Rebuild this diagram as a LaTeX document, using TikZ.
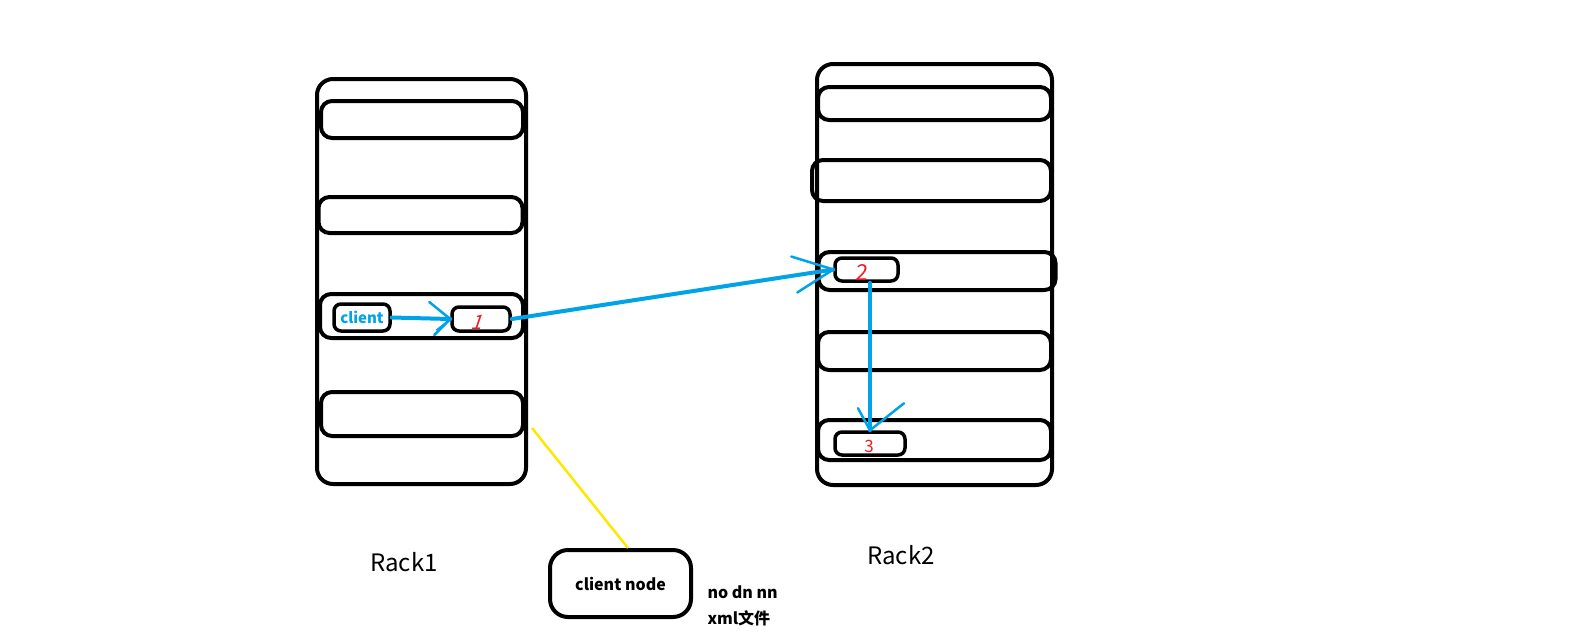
\documentclass[tikz,border=0pt]{standalone}
\usepackage{fontspec}
\setmainfont{Noto Sans CJK SC}
\usetikzlibrary{calc}
\definecolor{inkblue}{HTML}{00A2E8}
\definecolor{inkred}{HTML}{ED1C24}
\definecolor{inkyellow}{HTML}{FFE800}
\tikzset{
  rackbox/.style={draw, line width=4pt, rounded corners=16pt, inner sep=0pt},
  shelf/.style={draw, line width=4pt, rounded corners=11pt, inner sep=0pt},
  datanode/.style={draw, line width=3.5pt, rounded corners=7pt, inner sep=0pt},
  flow/.style={draw=inkblue, line width=4pt, line cap=round},
  headstroke/.style={draw=inkblue, line width=2.5pt, line cap=round},
  thinstroke/.style={draw=inkblue, line width=1.2pt, line cap=round},
  racklabel/.style={font=\fontsize{24}{28}\selectfont},
  smalllabel/.style={font=\fontsize{16}{19}\selectfont\bfseries, anchor=west},
  digit/.style={text=inkred, inner sep=0pt}
}
\begin{document}
\begin{tikzpicture}[x=1pt,y=-1pt]
\useasboundingbox (0,0) rectangle (1588,638);

% Rack 1 and its shelves
\node[rackbox, minimum width=209pt, minimum height=405pt] (rack1) at (421.5,281.5) {};
\node[shelf, minimum width=202pt, minimum height=37pt] (r1s1) at (422,119.5) {};
\node[shelf, minimum width=204pt, minimum height=36pt] (r1s2) at (420.5,215) {};
\node[shelf, minimum width=203pt, minimum height=44pt] (r1s3) at (421.5,316) {};
\node[shelf, minimum width=202pt, minimum height=44pt] (r1s4) at (422,414) {};

% Rack 2 and its shelves
\node[rackbox, minimum width=235pt, minimum height=421pt] (rack2) at (934.5,274.5) {};
\node[shelf, minimum width=233pt, minimum height=33pt] (r2s1) at (934.5,103.5) {};
\node[shelf, minimum width=239pt, minimum height=41pt] (r2s2) at (931.5,180.5) {};
\node[shelf, minimum width=237pt, minimum height=38pt] (r2s3) at (937,271) {};
\node[shelf, minimum width=233pt, minimum height=38pt] (r2s4) at (934.5,351) {};
\node[shelf, minimum width=233pt, minimum height=40pt] (r2s5) at (934.5,440) {};

% client and replica nodes
\node[datanode, minimum width=56pt, minimum height=27pt,
      text=inkblue, font=\fontsize{15}{17}\selectfont\bfseries] (client) at (362,317.5) {client};
\node[datanode, minimum width=58pt, minimum height=24pt] (n1) at (481,319) {};
\node[datanode, minimum width=63pt, minimum height=23pt] (n2) at (866.5,269.5) {};
\node[datanode, minimum width=70pt, minimum height=23pt] (n3) at (870,443.5) {};

% replica numbers
\node[digit, font=\fontsize{20}{22}\selectfont, xslant=0.35] (d1) at (479,322) {1};
\node[digit, font=\fontsize{22}{24}\selectfont, xslant=0.1] (d2) at (862,273) {2};
\node[digit, font=\fontsize{17}{19}\selectfont] (d3) at (869,446) {3};

% write pipeline: client -> 1
\path[flow] (client.east) -- (n1.west);
\path[headstroke] (n1.west) -- ++(-21,-17);
\path[headstroke] (n1.west) -- ++(-16,16);
\path[thinstroke] (n1.west) -- ++(-14,11);

% 1 -> 2
\path[flow] (n1.east) -- (n2.west);
\path[headstroke] (n2.west) -- ++(-42,-13);
\path[headstroke] (n2.west) -- ++(-36,23);

% 2 -> 3
\path[flow] (n3.north |- n2.south) -- (n3.north);
\path[headstroke] (n3.north) -- ++(-12,-22);
\path[headstroke] (n3.north) -- ++(34,-27);

% rack labels
\node[racklabel] (lab1) at (404,562) {Rack1};
\node[racklabel] (lab2) at (901,555) {Rack2};

% the client machine outside the racks
\node[draw, line width=4pt, rounded corners=18pt, minimum width=141pt, minimum height=67pt,
      font=\fontsize{16}{19}\selectfont\bfseries] (cnode) at (620.5,583.5) {client node};
\coordinate (rackedge) at (532,428);
\path[draw=inkyellow, line width=2.5pt] (rackedge) -- (cnode.north -| 628,0);

\node[smalllabel] (note1) at (704,592) {no dn nn};
\node[smalllabel] (note2) at (704,618) {xml文件};
\end{tikzpicture}
\end{document}
